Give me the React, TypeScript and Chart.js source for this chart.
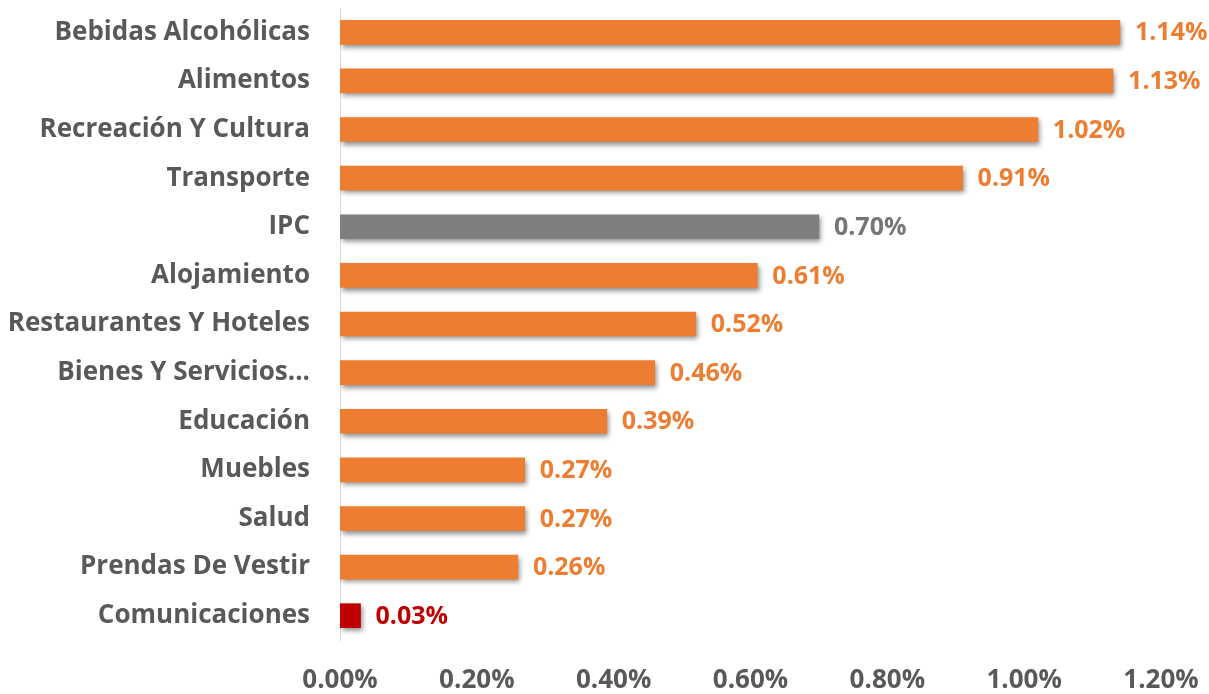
import React, { useEffect, useRef } from "react";
import { Chart, registerables } from "chart.js";

Chart.register(...registerables);

const categories = [
  "Bebidas Alcohólicas",
  "Alimentos",
  "Recreación Y Cultura",
  "Transporte",
  "IPC",
  "Alojamiento",
  "Restaurantes Y Hoteles",
  "Bienes Y Servicios...",
  "Educación",
  "Muebles",
  "Salud",
  "Prendas De Vestir",
  "Comunicaciones",
];

const values = [1.14, 1.13, 1.02, 0.91, 0.7, 0.61, 0.52, 0.46, 0.39, 0.27, 0.27, 0.26, 0.03];

const barColors = [
  "#ED7D31", "#ED7D31", "#ED7D31", "#ED7D31", "#7F7F7F", "#ED7D31", "#ED7D31",
  "#ED7D31", "#ED7D31", "#ED7D31", "#ED7D31", "#ED7D31", "#C00000",
];

const labelColors = [
  "#ED7D31", "#ED7D31", "#ED7D31", "#ED7D31", "#767676", "#ED7D31", "#ED7D31",
  "#ED7D31", "#ED7D31", "#ED7D31", "#ED7D31", "#ED7D31", "#C00000",
];

const xTicks = [0, 0.2, 0.4, 0.6, 0.8, 1.0, 1.2];

const FONT = "'Open Sans', 'Noto Sans', sans-serif";

export default function App() {
  const ref = useRef<HTMLCanvasElement | null>(null);

  useEffect(() => {
    document.body.style.margin = "0";
    if (!ref.current) return;

    const shadowPlugin = {
      id: "barShadow",
      beforeDatasetsDraw(chart: any) {
        const ctx = chart.ctx;
        ctx.save();
        ctx.shadowColor = "rgba(0,0,0,0.45)";
        ctx.shadowBlur = 5;
        ctx.shadowOffsetX = 2;
        ctx.shadowOffsetY = 3;
      },
      afterDatasetsDraw(chart: any) {
        chart.ctx.restore();
      },
    };

    const labelPlugin = {
      id: "valueLabels",
      afterDatasetsDraw(chart: any) {
        const ctx = chart.ctx;
        const meta = chart.getDatasetMeta(0);
        ctx.save();
        ctx.font = `bold 25px ${FONT}`;
        ctx.textAlign = "left";
        ctx.textBaseline = "middle";
        meta.data.forEach((bar: any, i: number) => {
          ctx.fillStyle = labelColors[i];
          ctx.fillText(values[i].toFixed(2) + "%", bar.x + 15, bar.y + 1);
        });
        ctx.restore();
      },
    };

    const chart = new Chart(ref.current, {
      type: "bar",
      data: {
        labels: categories,
        datasets: [
          {
            data: values,
            backgroundColor: barColors,
            borderWidth: 0,
            barThickness: 24,
          },
        ],
      },
      options: {
        indexAxis: "y",
        animation: false,
        responsive: false,
        layout: { padding: { top: 8, right: 48, bottom: 0, left: 0 } },
        plugins: {
          legend: { display: false },
          tooltip: { enabled: false },
        },
        scales: {
          x: {
            min: 0,
            max: 1.2,
            afterBuildTicks(scale: any) {
              scale.ticks = xTicks.map((v) => ({ value: v }));
            },
            afterFit(scale: any) {
              scale.height = 54;
              scale.paddingLeft = 0;
              scale.paddingRight = 0;
            },
            grid: { display: false, drawTicks: false },
            border: { display: false },
            ticks: {
              color: "#595959",
              padding: 25,
              maxRotation: 0,
              font: { family: FONT, size: 26, weight: "bold" },
              callback: (v: any) => Number(v).toFixed(2) + "%",
            },
          },
          y: {
            afterFit(scale: any) {
              scale.width = 340;
              scale.paddingTop = 0;
              scale.paddingBottom = 0;
            },
            grid: { display: false, drawTicks: false },
            border: { display: true, color: "#D9D9D9", width: 1 },
            ticks: {
              color: "#595959",
              padding: 30,
              font: { family: FONT, size: 26, weight: "bold" },
            },
          },
        },
      },
      plugins: [shadowPlugin, labelPlugin],
    });

    return () => chart.destroy();
  }, []);

  return (
    <div style={{ width: 1209, height: 694 }}>
      <canvas ref={ref} width={1209} height={694} style={{ display: "block" }} />
    </div>
  );
}
